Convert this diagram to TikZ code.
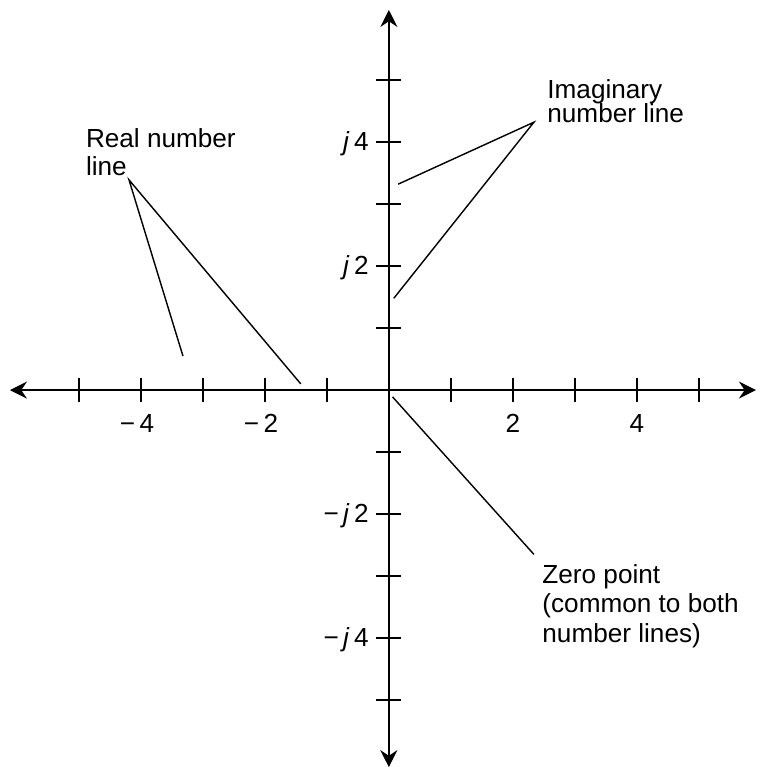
\documentclass[tikz,border=0pt]{standalone}
\usepackage{fontspec}
\setmainfont{Liberation Sans}
\usepackage{tikz}
\usetikzlibrary{arrows.meta}
\tikzset{
  axis_line/.style = {line width=0.9pt, black,
    {Stealth[length=7.8pt, width=7.8pt, inset=2.6pt]}-{Stealth[length=7.8pt, width=7.8pt, inset=2.6pt]}},
  tick_mark/.style = {line width=0.9pt, black},
  leader_line/.style = {line width=0.65pt, black},% trait de rappel
  num_label/.style = {inner sep=0pt, font=\fontsize{12}{13}\selectfont},
  note_text/.style = {inner sep=0pt, align=left, anchor=north west,
    font=\fontsize{12}{12.8}\selectfont}% texte des notes
}
\begin{document}
\begin{tikzpicture}
    \useasboundingbox (-6.27,-6.11) rectangle (5.97,6.29);
    % axes
    \coordinate (x_left) at (-6.11,0);
    \coordinate (x_right) at (5.92,0);
    \coordinate (y_bottom) at (0,-6.08);
    \coordinate (y_top) at (0,6.13);
    \draw [axis_line] (x_left) -- (x_right);
    \draw [axis_line] (y_bottom) -- (y_top);
    \foreach \k in {-5,-4,-3,-2,-1,1,2,3,4,5}{
      \draw [tick_mark] (\k,-0.2) -- (\k,0.2);
      \draw [tick_mark] (-0.2,\k) -- (0.2,\k);
    }
    % graduations
    \node [num_label, anchor=base] (re_m4) at (-4.06,-0.69) {−\,4};
    \node [num_label, anchor=base] (re_m2) at (-2.06,-0.69) {−\,2};
    \node [num_label, anchor=base] (re_2) at (2,-0.69) {2};
    \node [num_label, anchor=base] (re_4) at (4,-0.69) {4};
    \node [num_label, anchor=base east] (im_4) at (-0.32,3.86) {\textit{j}\,4};
    \node [num_label, anchor=base east] (im_2) at (-0.32,1.86) {\textit{j}\,2};
    \node [num_label, anchor=base east] (im_m2) at (-0.32,-2.14) {−\,\textit{j}\,2};
    \node [num_label, anchor=base east] (im_m4) at (-0.32,-4.14) {−\,\textit{j}\,4};
    % notes
    \node [note_text] (real_note) at (-4.89,4.22) {Real number\\line};
    \node [note_text] (imag_note) at (2.55,5.02)
      {Imaginary\\[-1.6pt]number line};
    \node [note_text] (zero_note) at (2.47,-2.81)
      {Zero point\\[0.6pt](common to both\\[0.6pt]number lines)};
    \coordinate (real_tip) at (-4.19,3.39);
    \coordinate (real_a) at (-3.32,0.55);
    \coordinate (real_b) at (-1.42,0.10);
    \coordinate (imag_tip) at (2.34,4.32);
    \coordinate (imag_a) at (0.15,3.32);
    \coordinate (imag_b) at (0.08,1.48);
    \coordinate (zero_tip) at (2.34,-2.65);
    \coordinate (zero_a) at (0.06,-0.11);
    \draw [leader_line] (real_a) -- (real_tip) -- (real_b);
    \draw [leader_line] (imag_a) -- (imag_tip) -- (imag_b);
    \draw [leader_line] (zero_tip) -- (zero_a);
\end{tikzpicture}
\end{document}
